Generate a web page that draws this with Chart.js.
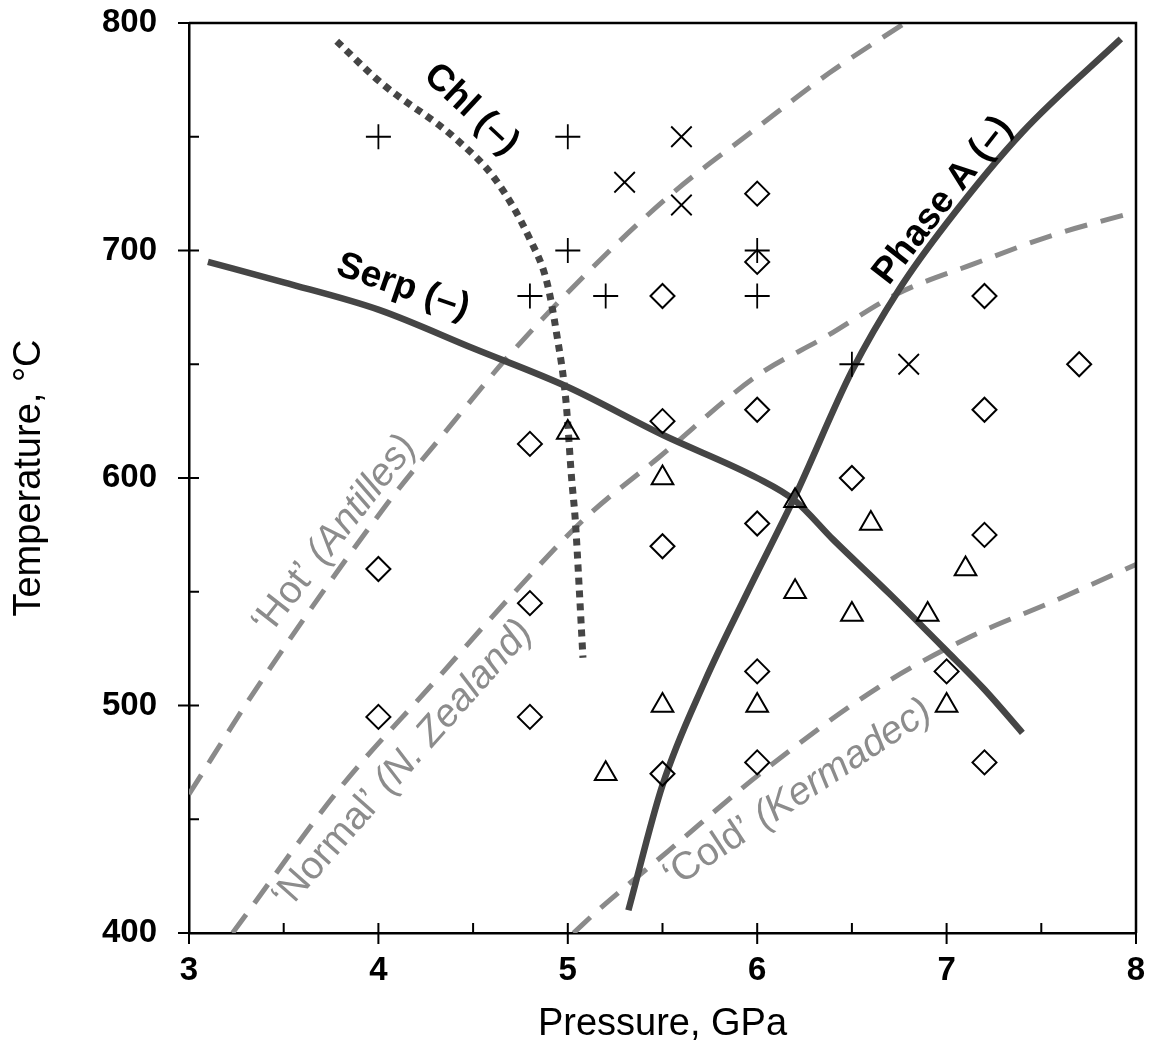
<!DOCTYPE html>
<html><head><meta charset="utf-8">
<script src="https://cdn.jsdelivr.net/npm/chart.js@4.4.0/dist/chart.umd.min.js"></script>
<style>html,body{margin:0;padding:0;background:#fff}canvas{display:block}</style>
</head><body>
<canvas id="c" width="1154" height="1050"></canvas>
<script>
// ---- Axis ticks ----
const xTickValues = [3, 4, 5, 6, 7, 8];
const yTickValues = [400, 500, 600, 700, 800];

// ---- Experimental points (P in GPa, T in °C) ----
const plusP = [4, 5, 5, 4.8, 5.2, 6, 6, 6.5];
const plusT = [750, 750, 700, 680, 680, 700, 680, 650];

const crossP = [5.6, 5.3, 5.6, 6.8];
const crossT = [750, 730, 720, 650];

const diamondP = [6, 6, 5.5, 7.2, 7.7, 6, 7.2, 5.5, 4.8, 6.5, 6, 7.2, 5.5, 4, 4.8, 6, 7, 4, 4.8, 6, 5.5, 7.2];
const diamondT = [725, 695, 680, 680, 650, 630, 630, 625, 615, 600, 580, 575, 570, 560, 545, 515, 515, 495, 495, 475, 470, 475];

const triangleP = [5, 5.5, 6.2, 6.6, 7.1, 6.2, 6.5, 6.9, 5.5, 6, 7, 5.2];
const triangleT = [620, 600, 590, 580, 560, 550, 540, 540, 500, 500, 500, 470];

// ---- Reaction boundaries ----
const serpP = [3.1, 3.5, 4.0, 4.5, 5.0, 5.5, 6.0, 6.2, 6.4, 6.7, 7.0, 7.2, 7.4];
const serpT = [695, 686, 674, 657, 640, 619, 600, 590, 573, 549, 524, 507, 488];

const phaseAP = [5.32, 5.5, 5.72, 5.95, 6.2, 6.5, 6.75, 7.0, 7.4, 7.92];
const phaseAT = [410, 465, 510, 550, 592, 647, 683, 712, 752, 793];

const chlP = [3.78, 4.01, 4.41, 4.62, 4.80, 4.89, 4.94, 4.99, 5.02, 5.04, 5.06, 5.08];
const chlT = [792, 774, 749, 731, 705, 686, 664, 634, 600, 581, 552, 521];

// ---- Slab geotherms ----
const hotP = [3.0, 3.36, 4.04, 4.4, 4.67, 5.1, 5.55, 6.0, 6.38, 6.78];
const hotT = [461, 508, 588, 625, 652, 690, 725, 754, 778, 800];

const normalP = [3.23, 3.81, 4.27, 4.71, 5.10, 5.48, 6.0, 6.36, 6.74, 7.14, 7.57, 8.0];
const normalT = [400, 465, 508, 549, 583, 609, 645, 662, 681, 694, 707, 717];

const coldP = [5.03, 5.16, 5.53, 6.03, 6.64, 7.12, 7.57, 8.0];
const coldT = [400, 410, 436, 471, 508, 530, 546, 562];

// ---- Text annotations ----
const curveLabels = [
  {parts: [['Chl (\u2013)', 'bold']], p: 4.49, t: 762, angle: 43, color: '#000', size: 37},
  {parts: [['Serp (\u2013)', 'bold']], p: 4.13, t: 684, angle: 19, color: '#000', size: 37},
  {parts: [['Phase A (\u2013)', 'bold']], p: 6.98, t: 722, angle: -52, color: '#000', size: 37},
  {parts: [['\u2018Hot\u2019 ', 'normal'], ['(Antilles)', 'italic']], p: 3.77, t: 575, angle: -52, color: '#8c8c8c', size: 39},
  {parts: [['\u2018Normal\u2019 ', 'normal'], ['(N. Zealand)', 'italic']], p: 4.13, t: 474, angle: -48.5, color: '#8c8c8c', size: 39},
  {parts: [['\u2018Cold\u2019 ', 'normal'], ['(Kermadec)', 'italic']], p: 6.215, t: 461, angle: -33.5, color: '#8c8c8c', size: 39}
];

const FONT = "'Liberation Sans', Arial, Helvetica, sans-serif";
const zip = (a, b) => a.map((v, i) => ({x: v, y: b[i]}));

function markerSet(P, T, style, r, w) {
  return {data: zip(P, T), showLine: false, pointStyle: style, pointRadius: r, pointHoverRadius: r,
    pointBorderColor: '#000', pointBackgroundColor: 'rgba(0,0,0,0)', pointBorderWidth: w};
}
function lineSet(P, T, color, width, dash) {
  return {data: zip(P, T), showLine: true, pointRadius: 0, pointHoverRadius: 0, borderColor: color,
    borderWidth: width, borderDash: dash, cubicInterpolationMode: 'monotone', borderCapStyle: 'butt', fill: false};
}

const frameAndTicks = {
  id: 'frameAndTicks',
  afterDraw(chart) {
    const {ctx, chartArea: a, scales: {x, y}} = chart;
    ctx.save();
    ctx.strokeStyle = '#000';
    ctx.lineWidth = 2.5;
    ctx.beginPath();
    ctx.moveTo(a.left, a.top); ctx.lineTo(a.right, a.top); ctx.lineTo(a.right, a.bottom);
    ctx.stroke();
    ctx.lineWidth = 2;
    ctx.beginPath();
    for (let v = x.min; v <= x.max + 1e-9; v += 0.5) {
      const px = x.getPixelForValue(v);
      const major = Math.abs(v - Math.round(v)) < 1e-6;
      ctx.moveTo(px, a.bottom - 10);
      ctx.lineTo(px, a.bottom + (major ? 11 : 0));
    }
    for (let v = y.min; v <= y.max + 1e-9; v += 50) {
      const py = y.getPixelForValue(v);
      const major = v % 100 === 0;
      ctx.moveTo(a.left + 10, py);
      ctx.lineTo(a.left - (major ? 11 : 0), py);
    }
    ctx.stroke();
    ctx.restore();
  }
};

const textLabels = {
  id: 'textLabels',
  afterDatasetsDraw(chart) {
    const {ctx, scales: {x, y}} = chart;
    curveLabels.forEach(l => {
      const px = x.getPixelForValue(l.p), py = y.getPixelForValue(l.t);
      ctx.save();
      ctx.translate(px, py);
      ctx.rotate(l.angle * Math.PI / 180);
      ctx.fillStyle = l.color;
      ctx.textBaseline = 'middle';
      ctx.textAlign = 'left';
      const fonts = l.parts.map(([s, st]) =>
        (st === 'bold' ? 'bold ' : st === 'italic' ? 'italic ' : '') + l.size + 'px ' + FONT);
      let total = 0;
      const widths = l.parts.map(([s], i) => { ctx.font = fonts[i]; const w = ctx.measureText(s).width; total += w; return w; });
      let cx = -total / 2;
      l.parts.forEach(([s], i) => { ctx.font = fonts[i]; ctx.fillText(s, cx, 0); cx += widths[i]; });
      ctx.restore();
    });
  }
};

const zeroPad = s => { s.paddingTop = 0; s.paddingBottom = 0; s.paddingLeft = 0; s.paddingRight = 0; };
const DARK = '#454545', GREY = '#8a8a8a';

new Chart(document.getElementById('c'), {
  type: 'scatter',
  data: {
    datasets: [
      markerSet(plusP, plusT, 'cross', 12.5, 1.8),
      markerSet(crossP, crossT, 'crossRot', 14.5, 1.8),
      markerSet(diamondP, diamondT, 'rectRot', 12, 2),
      markerSet(triangleP, triangleT, 'triangle', 12.5, 2),
      lineSet(serpP, serpT, DARK, 6.5, []),
      lineSet(phaseAP, phaseAT, DARK, 6.5, []),
      lineSet(chlP, chlT, DARK, 7, [7, 6]),
      lineSet(hotP, hotT, GREY, 5, [23, 14]),
      lineSet(normalP, normalT, GREY, 5, [23, 14]),
      lineSet(coldP, coldT, GREY, 5, [23, 14])
    ]
  },
  options: {
    responsive: false,
    devicePixelRatio: 1,
    animation: false,
    layout: {padding: {top: 23, right: 18, left: 0, bottom: 0}},
    plugins: {legend: {display: false}, tooltip: {enabled: false}},
    scales: {
      x: {
        type: 'linear', position: 'bottom', min: 3, max: 8,
        afterBuildTicks: s => { s.ticks = xTickValues.map(v => ({value: v})); },
        afterFit: s => { s.height = 117; zeroPad(s); },
        grid: {display: false, drawTicks: false},
        border: {display: true, color: '#000', width: 2.5},
        ticks: {color: '#000', padding: 18, maxRotation: 0, font: {family: FONT, size: 33, weight: 'bold'}},
        title: {display: true, text: 'Pressure, GPa', color: '#000', padding: {top: 0, bottom: 3},
          font: {family: FONT, size: 38, weight: 'normal'}}
      },
      y: {
        type: 'linear', position: 'left', min: 400, max: 800,
        afterBuildTicks: s => { s.ticks = yTickValues.map(v => ({value: v})); },
        afterFit: s => { s.width = 189; zeroPad(s); },
        grid: {display: false, drawTicks: false},
        border: {display: true, color: '#000', width: 2.5},
        ticks: {color: '#000', padding: 32, font: {family: FONT, size: 33, weight: 'bold'}},
        title: {display: true, text: 'Temperature, \u00B0C', color: '#000', padding: {top: 7, bottom: 0},
          font: {family: FONT, size: 38, weight: 'normal'}}
      }
    }
  },
  plugins: [frameAndTicks, textLabels]
});
</script>
</body></html>
